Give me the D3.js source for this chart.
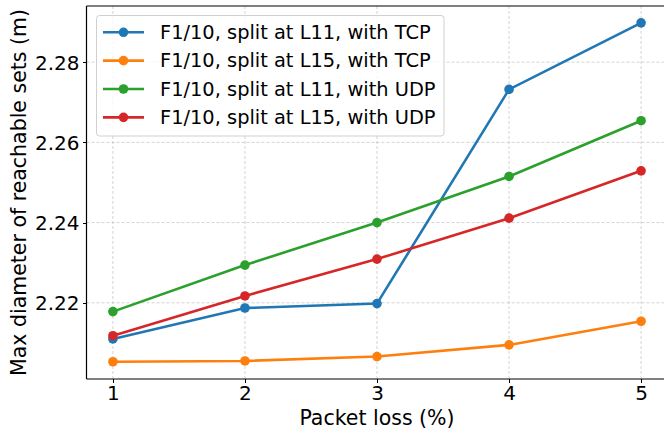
<!doctype html>
<html lang="en">
<head>
  <meta charset="utf-8">
  <title>packet loss chart</title>
<style>
 body{ margin: 0; background: #fff; }
 #chart{ width: 664px; height: 435px; }
 text{ font-family: 'DejaVu Sans', sans-serif; fill: #000; }
 .x-axis path, .y-axis path{ display: none; }
 .x-axis line, .y-axis line{ stroke: #000; shape-rendering: crispEdges; }
 .grid line{ stroke: #b0b0b0; stroke-opacity: 0.7; stroke-dasharray: 3,2; stroke-width: 0.8; }
</style>
</head>
<body>
  <div id="chart"></div>
  <script src="https://d3js.org/d3.v7.min.js"></script>
  <script type="text/javascript">

    // packet loss (%)
    var packetLoss = [1, 2, 3, 4, 5];
    var yTicks = [2.22, 2.24, 2.26, 2.28];

    var seriesNames = [
      'F1/10, split at L11, with TCP',
      'F1/10, split at L15, with TCP',
      'F1/10, split at L11, with UDP',
      'F1/10, split at L15, with UDP'
    ];
    var l11Tcp = [2.2110, 2.2187, 2.2198, 2.2732, 2.2898];
    var l15Tcp = [2.2053, 2.2055, 2.2066, 2.2095, 2.2154];
    var l11Udp = [2.2178, 2.2294, 2.2400, 2.2515, 2.2654];
    var l15Udp = [2.2118, 2.2217, 2.2309, 2.2411, 2.2529];
    var colors = ['#1f77b4', '#ff7f0e', '#2ca02c', '#d62728'];

    var chartWidth = 664;
    var chartHeight = 435;
    var plotLeft = 86.5, plotRight = 667.5, plotTop = 6, plotBottom = 379;

    var series = [l11Tcp, l15Tcp, l11Udp, l15Udp].map(function(vals, i){
      return { name: seriesNames[i], color: colors[i],
               points: vals.map(function(v, j){ return { x: packetLoss[j], y: v }; }) };
    });

    var svg = d3.select('#chart')
      .append('svg')
      .attr('width', chartWidth)
      .attr('height', chartHeight);

    var xscale = d3.scaleLinear().domain([0.8, 5.2]).range([plotLeft, plotRight]);
    var yscale = d3.scaleLinear().domain([2.2010, 2.2940]).range([plotBottom, plotTop]);

    // grid
    var grid = svg.append('g').attr('class', 'grid');
    grid.selectAll('.gx').data(packetLoss).enter().append('line')
      .attr('x1', function(d){ return xscale(d); })
      .attr('x2', function(d){ return xscale(d); })
      .attr('y1', plotTop).attr('y2', plotBottom);
    grid.selectAll('.gy').data(yTicks).enter().append('line')
      .attr('y1', function(d){ return yscale(d); })
      .attr('y2', function(d){ return yscale(d); })
      .attr('x1', plotLeft).attr('x2', plotRight);

    // axes
    var xaxis = d3.axisBottom(xscale).tickValues(packetLoss).tickFormat(d3.format('d'))
      .tickSize(4).tickPadding(3);
    svg.append('g')
      .attr('class', 'x-axis')
      .attr('transform', 'translate(0,' + plotBottom + ')')
      .call(xaxis)
      .selectAll('text').style('font-size', '20px');

    var yaxis = d3.axisLeft(yscale).tickValues(yTicks).tickFormat(d3.format('.2f'))
      .tickSize(4).tickPadding(3);
    svg.append('g')
      .attr('class', 'y-axis')
      .attr('transform', 'translate(' + plotLeft + ',0)')
      .call(yaxis)
      .selectAll('text').style('font-size', '20px').attr('dy', '0.35em');

    // spines
    svg.append('line').attr('x1', plotLeft).attr('x2', plotLeft).attr('y1', plotTop).attr('y2', plotBottom)
      .attr('stroke', '#000').attr('stroke-width', 1.2);
    svg.append('line').attr('x1', plotLeft).attr('x2', plotRight).attr('y1', plotBottom).attr('y2', plotBottom)
      .attr('stroke', '#000').attr('stroke-width', 1.2);
    svg.append('line').attr('x1', plotLeft).attr('x2', plotRight).attr('y1', plotTop).attr('y2', plotTop)
      .attr('stroke', '#000').attr('stroke-width', 1.2);

    // labels
    svg.append('text')
      .attr('x', xscale(3)).attr('y', 425)
      .attr('text-anchor', 'middle')
      .style('font-size', '20.5px')
      .text('Packet loss (%)');
    svg.append('text')
      .attr('transform', 'translate(26,' + ((plotTop + plotBottom) / 2) + ') rotate(-90)')
      .attr('text-anchor', 'middle')
      .style('font-size', '20.5px')
      .text('Max diameter of reachable sets (m)');

    // lines + markers
    var line = d3.line()
      .x(function(d){ return xscale(d.x); })
      .y(function(d){ return yscale(d.y); });

    series.forEach(function(s){
      var g = svg.append('g');
      g.append('path')
        .datum(s.points)
        .attr('d', line)
        .attr('fill', 'none')
        .attr('stroke', s.color)
        .attr('stroke-width', 2.6);
      g.selectAll('circle').data(s.points).enter().append('circle')
        .attr('cx', function(d){ return xscale(d.x); })
        .attr('cy', function(d){ return yscale(d.y); })
        .attr('r', 4.8)
        .attr('fill', s.color);
    });

    // legend
    var legend = svg.append('g');
    legend.append('rect')
      .attr('x', 96.5).attr('y', 15.5)
      .attr('width', 347.5).attr('height', 120.5)
      .attr('rx', 3)
      .attr('fill', '#fff').attr('fill-opacity', 0.8)
      .attr('stroke', '#d0d0d0');

    var rows = legend.selectAll('.row').data(series).enter().append('g')
      .attr('transform', function(d, i){ return 'translate(0,' + (32.3 + i * 28.35) + ')'; });
    rows.append('line')
      .attr('x1', 103).attr('x2', 144).attr('y1', 0).attr('y2', 0)
      .attr('stroke', function(d){ return d.color; })
      .attr('stroke-width', 2.6);
    rows.append('circle')
      .attr('cx', 123.5).attr('cy', 0).attr('r', 4.8)
      .attr('fill', function(d){ return d.color; });
    rows.append('text')
      .attr('x', 160).attr('y', 0).attr('dy', '0.35em')
      .style('font-size', '19.4px')
      .text(function(d){ return d.name; });

  </script>
</body>
</html>
